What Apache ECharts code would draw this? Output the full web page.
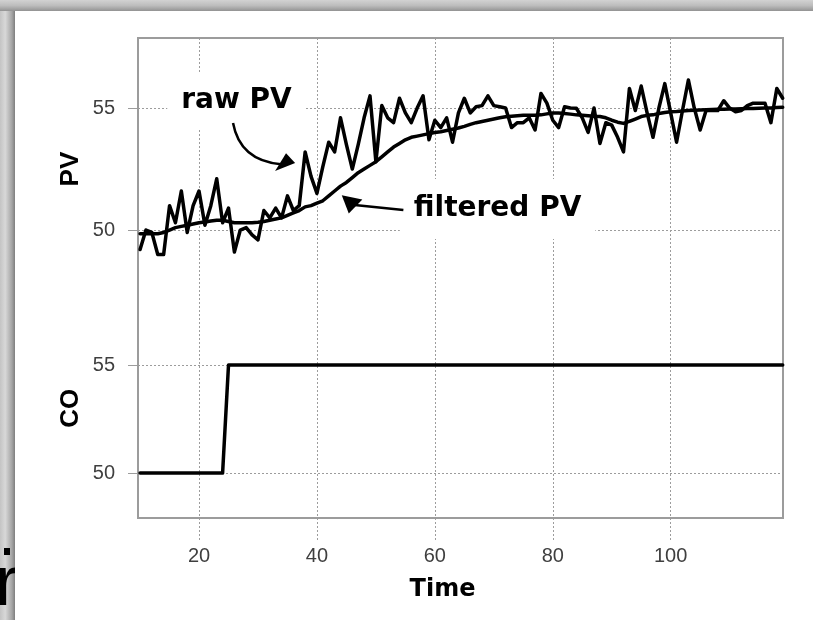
<!DOCTYPE html>
<html>
<head>
<meta charset="utf-8">
<script src="https://cdn.jsdelivr.net/npm/echarts@6/dist/echarts.min.js"></script>
<style>
html, body { margin: 0; padding: 0; background: #fff; }
#c { width: 813px; height: 620px; }
</style>
</head>
<body>
<div id="c"></div>
<script>
// ---------------- data ----------------
const timeTicks = [20, 40, 60, 80, 100];
const pvTicks = [50, 55];
const coTicks = [50, 55];

const time = [
  10, 11, 12, 13, 14, 15, 16, 17, 18, 19,
  20, 21, 22, 23, 24, 25, 26, 27, 28, 29,
  30, 31, 32, 33, 34, 35, 36, 37, 38, 39,
  40, 41, 42, 43, 44, 45, 46, 47, 48, 49,
  50, 51, 52, 53, 54, 55, 56, 57, 58, 59,
  60, 61, 62, 63, 64, 65, 66, 67, 68, 69,
  70, 71, 72, 73, 74, 75, 76, 77, 78, 79,
  80, 81, 82, 83, 84, 85, 86, 87, 88, 89,
  90, 91, 92, 93, 94, 95, 96, 97, 98, 99,
  100, 101, 102, 103, 104, 105, 106, 107, 108, 109,
  110, 111, 112, 113, 114, 115, 116, 117, 118, 119
];

const rawPV = [
  49.2, 50.0, 49.9, 49.0, 49.0, 51.0, 50.3, 51.6, 49.9, 51.0,
  51.6, 50.2, 51.0, 52.1, 50.3, 50.9, 49.1, 50.0, 50.1, 49.8,
  49.6, 50.8, 50.5, 50.9, 50.5, 51.4, 50.8, 51.0, 53.2, 52.2,
  51.5, 52.6, 53.6, 53.2, 54.6, 53.5, 52.5, 53.5, 54.6, 55.5,
  52.8, 55.1, 54.6, 54.4, 55.4, 54.8, 54.4, 55.0, 55.5, 53.7,
  54.5, 54.2, 54.6, 53.6, 54.8, 55.4, 54.8, 55.05, 55.1, 55.5,
  55.1, 55.05, 55.0, 54.2, 54.4, 54.4, 54.6, 54.1, 55.6, 55.2,
  54.5, 54.2, 55.05, 55.0, 54.99, 54.6, 54.0, 55.0, 53.55, 54.4,
  54.3, 53.8, 53.2, 55.8, 54.9, 55.9, 54.8, 53.8, 55.0, 56.0,
  54.8, 53.6, 54.9, 56.15, 55.0, 54.1, 54.9, 54.9, 54.9, 55.3,
  55.0, 54.85, 54.9, 55.1, 55.2, 55.2, 55.2, 54.4, 55.8, 55.4
];

const filteredPV = [
  49.85, 49.85, 49.85, 49.85, 49.9, 50.0, 50.1, 50.15, 50.2, 50.25,
  50.3, 50.33, 50.37, 50.4, 50.4, 50.35, 50.3, 50.3, 50.3, 50.3,
  50.32, 50.35, 50.4, 50.45, 50.5, 50.6, 50.7, 50.8, 50.95, 51.0,
  51.1, 51.2, 51.4, 51.6, 51.8, 51.95, 52.15, 52.35, 52.5, 52.65,
  52.8, 53.0, 53.2, 53.4, 53.55, 53.7, 53.8, 53.85, 53.9, 53.95,
  54.0, 54.03, 54.08, 54.13, 54.18, 54.25, 54.33, 54.4, 54.45, 54.5,
  54.55, 54.6, 54.64, 54.66, 54.68, 54.7, 54.7, 54.7, 54.72, 54.76,
  54.8, 54.8, 54.78, 54.75, 54.72, 54.7, 54.68, 54.66, 54.65, 54.6,
  54.5, 54.42, 54.37, 54.45, 54.55, 54.65, 54.7, 54.72, 54.78, 54.82,
  54.85, 54.86, 54.88, 54.9, 54.91, 54.92, 54.93, 54.94, 54.95, 54.95,
  54.96, 54.96, 54.97, 54.98, 54.98, 54.99, 55.0, 55.0, 55.02, 55.03
];

const coTime = [10, 24, 25, 119];
const coValue = [50, 50, 55, 55];

// ---------------- chart ----------------
const chart = echarts.init(document.getElementById('c'), null, { renderer: 'canvas' });

const G = { left: 138, right: 30, top: 38, bottom: 102 };
const labelFont = '"Liberation Sans", Arial, sans-serif';
const gridColor = '#9c9c9c';
const splitLine = { show: true, lineStyle: { color: gridColor, type: [2, 2], width: 1 } };
const yLabel = { margin: 23, fontSize: 20, color: '#3f3f3f', fontFamily: labelFont };
const lineStyle = { color: '#000', width: 3.5, join: 'round', cap: 'round' };

const option = {
  animation: false,
  backgroundColor: '#fff',
  grid: {
    left: G.left, right: G.right, top: G.top, bottom: G.bottom,
    show: true, borderColor: gridColor, borderWidth: 2, backgroundColor: 'transparent'
  },
  xAxis: {
    type: 'value', min: 9.65, max: 119.05,
    axisLine: { show: false },
    axisTick: { show: true, customValues: timeTicks, length: 22, lineStyle: { color: gridColor, type: [2, 2] } },
    axisLabel: { customValues: timeTicks, margin: 28, fontSize: 20, color: '#3f3f3f', fontFamily: labelFont },
    splitLine: splitLine,
    name: 'Time', nameLocation: 'middle', nameGap: 60,
    nameTextStyle: {
      fontFamily: '"DejaVu Sans", sans-serif', fontWeight: 'bold', fontSize: 24, color: '#000',
      padding: [0, 36, 0, 0]
    }
  },
  yAxis: [
    {
      type: 'value', min: 38.2, max: 57.87, position: 'left',
      axisLine: { show: false },
      axisTick: { show: true, customValues: pvTicks, length: 10, lineStyle: { color: gridColor } },
      axisLabel: Object.assign({ customValues: pvTicks }, yLabel),
      splitLine: splitLine
    },
    {
      type: 'value', min: 47.92, max: 70.14, position: 'left', offset: 0,
      axisLine: { show: false },
      axisTick: { show: true, customValues: coTicks, length: 10, lineStyle: { color: gridColor } },
      axisLabel: Object.assign({ customValues: coTicks }, yLabel),
      splitLine: splitLine
    }
  ],
  series: [
    {
      name: 'raw PV', type: 'line', xAxisIndex: 0, yAxisIndex: 0,
      data: time.map((t, i) => [t, rawPV[i]]),
      showSymbol: false, lineStyle: lineStyle, z: 3
    },
    {
      name: 'filtered PV', type: 'line', xAxisIndex: 0, yAxisIndex: 0,
      data: time.map((t, i) => [t, filteredPV[i]]),
      showSymbol: false, lineStyle: lineStyle, z: 3
    },
    {
      name: 'CO', type: 'line', xAxisIndex: 0, yAxisIndex: 1,
      data: coTime.map((t, i) => [t, coValue[i]]),
      showSymbol: false, lineStyle: lineStyle, z: 3
    }
  ]
};
chart.setOption(option);

// ---------------- annotations (anchored to data coords) ----------------
const P = (t, v) => chart.convertToPixel({ xAxisIndex: 0, yAxisIndex: 0 }, [t, v]);
const Q = (t, v) => chart.convertToPixel({ xAxisIndex: 0, yAxisIndex: 1 }, [t, v]);
const annFont = 'bold 28px "DejaVu Sans", sans-serif';
const nameFont = 'bold 26px "Liberation Sans", Arial, sans-serif';

const rawLbl = P(26.36, 55.28);
const rA0 = P(25.77, 54.39), rAc = P(26.95, 52.85), rA1 = P(33.9, 52.70);
const rTip = P(36.3, 52.75), rH1 = P(34.76, 53.15), rH2 = P(32.9, 52.42);

const fLbl = P(70.64, 50.86);
const fTip = P(44.21, 51.43), fH1 = P(45.4, 50.68), fH2 = P(47.7, 51.25);
const fA0 = P(46.4, 51.03), fAc = P(50.7, 50.92), fA1 = P(54.66, 50.82);

const pvName = P(0, 52.5);
const coName = Q(0, 53.0);

chart.setOption({
  graphic: [
    // slide frame decoration
    { type: 'rect', z: -30, shape: { x: 0, y: 0, width: 15, height: 620 },
      style: { fill: new echarts.graphic.LinearGradient(0, 0, 1, 0, [
        { offset: 0, color: '#c4c4c4' }, { offset: 0.35, color: '#d8d8d8' },
        { offset: 0.8, color: '#a4a4a4' }, { offset: 1, color: '#7e7e7e' }]) } },
    { type: 'text', z: -29, x: -5, y: 585,
      style: { text: 'r', font: '71px "Liberation Sans", Arial, sans-serif', fill: '#000', align: 'left', verticalAlign: 'middle' } },
    { type: 'rect', z: -29, shape: { x: 4, y: 548, width: 6, height: 7 }, style: { fill: '#000' } },
    { type: 'rect', z: -28, shape: { x: 15, y: 0, width: 798, height: 620 }, style: { fill: '#fff' } },
    { type: 'rect', z: -27, shape: { x: 0, y: 0, width: 813, height: 11 },
      style: { fill: new echarts.graphic.LinearGradient(0, 0, 0, 1, [
        { offset: 0, color: '#d2d2d2' }, { offset: 0.5, color: '#bdbdbd' },
        { offset: 1, color: '#939393' }]) } },

    // axis names
    { type: 'text', z: 50, x: G.left - 67, y: pvName[1], rotation: Math.PI / 2,
      style: { text: 'PV', font: nameFont, fill: '#000', align: 'center', verticalAlign: 'middle' } },
    { type: 'text', z: 50, x: G.left - 67, y: coName[1], rotation: Math.PI / 2,
      style: { text: 'CO', font: nameFont, fill: '#000', align: 'center', verticalAlign: 'middle' } },

    // raw PV label + arrow
    { type: 'text', z: 60, x: rawLbl[0], y: rawLbl[1],
      style: { text: 'raw PV', font: annFont, fill: '#000', align: 'center', verticalAlign: 'middle',
               backgroundColor: '#fff', padding: [14, 14] } },
    { type: 'bezierCurve', z: 60,
      shape: { x1: rA0[0], y1: rA0[1], cpx1: rAc[0], cpy1: rAc[1], x2: rA1[0], y2: rA1[1] },
      style: { stroke: '#000', lineWidth: 2.5, fill: null } },
    { type: 'polygon', z: 60, shape: { points: [rTip, rH1, rH2] }, style: { fill: '#000' } },

    // filtered PV label + arrow
    { type: 'text', z: 60, x: fLbl[0], y: fLbl[1],
      style: { text: 'filtered PV', font: annFont, fill: '#000', align: 'center', verticalAlign: 'middle',
               backgroundColor: '#fff', padding: [16, 14] } },
    { type: 'bezierCurve', z: 60,
      shape: { x1: fA0[0], y1: fA0[1], cpx1: fAc[0], cpy1: fAc[1], x2: fA1[0], y2: fA1[1] },
      style: { stroke: '#000', lineWidth: 2.5, fill: null } },
    { type: 'polygon', z: 60, shape: { points: [fTip, fH1, fH2] }, style: { fill: '#000' } }
  ]
});
</script>
</body>
</html>
